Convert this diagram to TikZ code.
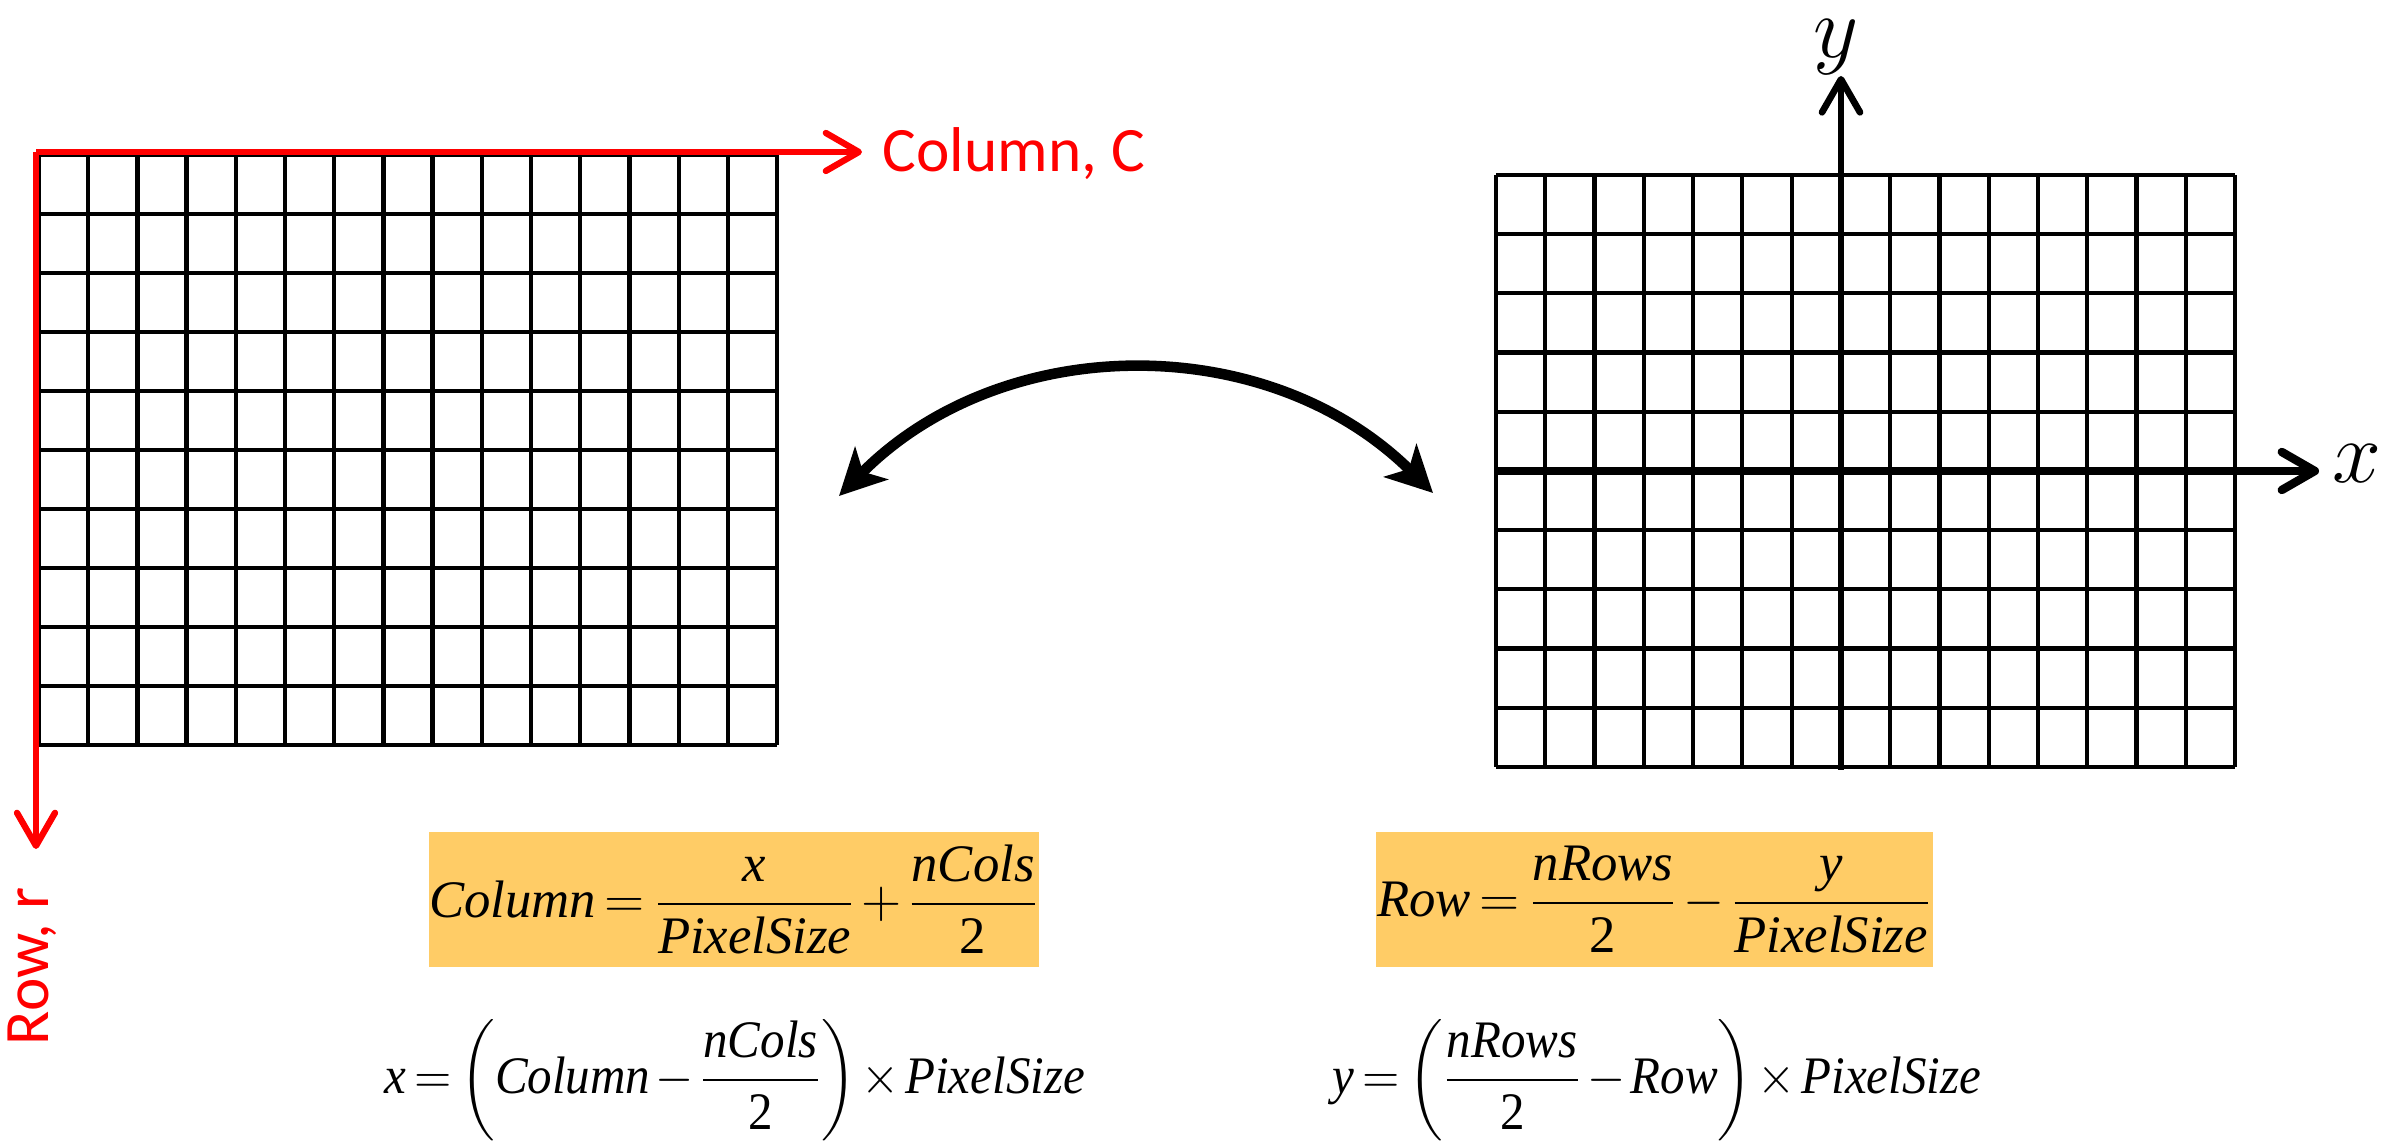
\RequirePackage{fix-cm}
\documentclass[tikz,border=0pt]{standalone}
\usepackage{amsmath}
\usepackage{fontspec}
\setmainfont{Liberation Serif}
\newfontfamily\labelfont{Carlito}
\usetikzlibrary{arrows.meta, positioning}
\definecolor{eqorange}{RGB}{255,204,102}
\newcommand{\eqvar}[1]{\textit{#1}}
\newcommand{\eqspacing}{\thickmuskip=3mu \medmuskip=2mu}

\begin{document}
\begin{tikzpicture}[
    gridline/.style={line width=1.2pt},
    redaxis/.style={red, line width=1.8pt, -{Straight Barb[length=3.3mm, width=3.8mm, round]}},
    axis/.style={line width=2.4pt, -{Straight Barb[length=3.3mm, width=3.8mm, round]}},
    redlabel/.style={text=red, font=\labelfont\fontsize{18}{22}\selectfont, inner sep=0pt},
    axislabel/.style={font=\fontsize{25}{30}\selectfont, inner sep=0pt},
    eqbox/.style={fill=eqorange, minimum height=1.35cm, inner sep=0pt, font=\fontsize{15}{18}\selectfont\eqspacing},
    eqtext/.style={font=\fontsize{15}{18}\selectfont\eqspacing, inner sep=0pt},
    swap/.style={line width=3pt, {Stealth[length=4.6mm, width=4.6mm, inset=1.2mm]}-{Stealth[length=4.6mm, width=4.6mm, inset=1.2mm]}}
]
    \useasboundingbox (0,0) rectangle (24.07,11.44);

    % Image grid (rows and columns)
    \begin{scope}[shift={(0.39,3.99)}, xscale=0.492, yscale=0.59]
        \draw[gridline] (0,0) grid (15,10);
    \end{scope}
    \coordinate (corner) at (0.36,9.92);
    \coordinate (colTip) at (8.62,9.92);
    \coordinate (rowTip) at (0.36,2.95);
    \draw[redaxis] (corner) -- (colTip);
    \draw[redaxis] (corner) -- (rowTip);
    \node[redlabel, anchor=west] (colLabel) at (8.82,9.90) {Column, C};
    \node[redlabel, rotate=90] (rowLabel) at (0.32,1.78) {Row, r};

    % Cartesian grid (x and y)
    \begin{scope}[shift={(14.96,3.77)}, xscale=0.4927, yscale=0.592]
        \draw[gridline] (0,0) grid (15,10);
    \end{scope}
    \coordinate (xStart) at (14.96,6.73);
    \coordinate (xTip) at (23.19,6.73);
    \coordinate (yStart) at (18.41,3.74);
    \coordinate (yTip) at (18.41,10.68);
    \draw[axis] (xStart) -- (xTip);
    \draw[axis, line width=1.9pt] (yStart) -- (yTip);
    \node[axislabel] (yLabel) at (18.36,10.97) {$y$};
    \node[axislabel] (xLabel) at (23.57,6.80) {$x$};

    % Conversion arrow
    \coordinate (leftEnd) at (8.39,6.48);
    \coordinate (rightEnd) at (14.33,6.51);
    \draw[swap] (leftEnd) to[bend left=45] (rightEnd);

    % Formulas
    \node[eqbox, minimum width=6.10cm] (colEq) at (7.34,2.445) {$\eqvar{Column}=\dfrac{\eqvar{x}}{\eqvar{PixelSize}}+\dfrac{\eqvar{nCols}}{\textrm{2}}$};
    \node[eqbox, minimum width=5.57cm] (rowEq) at (16.545,2.445) {$\eqvar{Row}=\dfrac{\eqvar{nRows}}{\textrm{2}}-\dfrac{\eqvar{y}}{\eqvar{PixelSize}}$};
    \node[eqtext] (xEq) at (7.35,0.64) {\scalebox{0.93}[1]{$\eqvar{x}=\biggl(\eqvar{Column}-\dfrac{\eqvar{nCols}}{\textrm{2}}\biggr)\times\eqvar{PixelSize}$}};
    \node[eqtext] (yEq) at (16.57,0.64) {\scalebox{0.93}[1]{$\eqvar{y}=\biggl(\dfrac{\eqvar{nRows}}{\textrm{2}}-\eqvar{Row}\biggr)\times\eqvar{PixelSize}$}};
\end{tikzpicture}
\end{document}
